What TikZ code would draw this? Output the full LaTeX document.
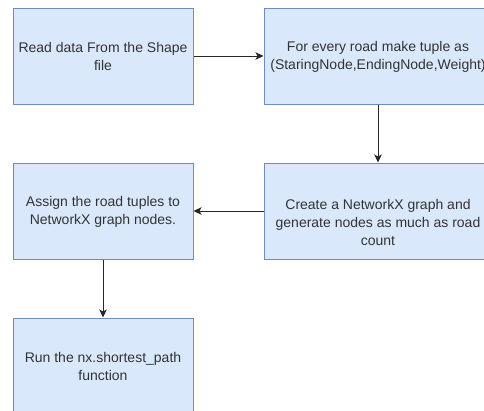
\documentclass[tikz,border=0pt]{standalone}
\usepackage{fontspec}
\setmainfont{Liberation Sans}
\usetikzlibrary{arrows.meta}
\definecolor{boxfill}{HTML}{DAE8FC}
\definecolor{boxline}{HTML}{6C8EBF}
\definecolor{textgray}{HTML}{333333}
\tikzset{
  stepbox/.style={draw=boxline, fill=boxfill, line width=1pt, rectangle,
    minimum width=180pt, minimum height=96pt, inner sep=0pt},
  widebox/.style={stepbox, minimum width=228pt},
  caption/.style={text=textgray, align=center, inner sep=0pt,
    font=\fontsize{14pt}{18pt}\selectfont},
  flow/.style={draw=black!85, line width=0.9pt,
    -{Stealth[length=8pt,width=7.5pt,inset=2pt]}}
}
\begin{document}
\begin{tikzpicture}[x=1pt, y=-1pt]
  \useasboundingbox (0,0) rectangle (484,410);
  \fill[white] (0,0) rectangle (484,410);
  \clip (0,0) rectangle (484,410);

  % process boxes
  \node[stepbox] (read) at (103,56) {};
  \node[widebox] (tuple) at (378,56) {};
  \node[widebox] (create) at (378,211) {};
  \node[stepbox] (assign) at (103,211) {};
  \node[stepbox] (run) at (103,366) {};

  % box texts
  \node[caption] (readtxt) at (103,56) {Read data From the Shape\\file};
  \node[caption] (tupletxt) at (378,57) {For every road make tuple as\\(StaringNode,EndingNode,Weight)};
  \node[caption] (createtxt) at (378,222) {Create a NetworkX graph and\\generate nodes as much as road\\count};
  \node[caption] (assigntxt) at (103,212) {Assign the road tuples to\\NetworkX graph nodes.};
  \node[caption] (runtxt) at (103,366) {Run the nx.shortest\_path\\function};

  % connectors
  \draw[flow] (read.east) -- (tuple.west);
  \draw[flow] (tuple.south) -- (create.north);
  \draw[flow] (create.west) -- (assign.east);
  \draw[flow] (assign.south) -- (run.north);
\end{tikzpicture}
\end{document}
